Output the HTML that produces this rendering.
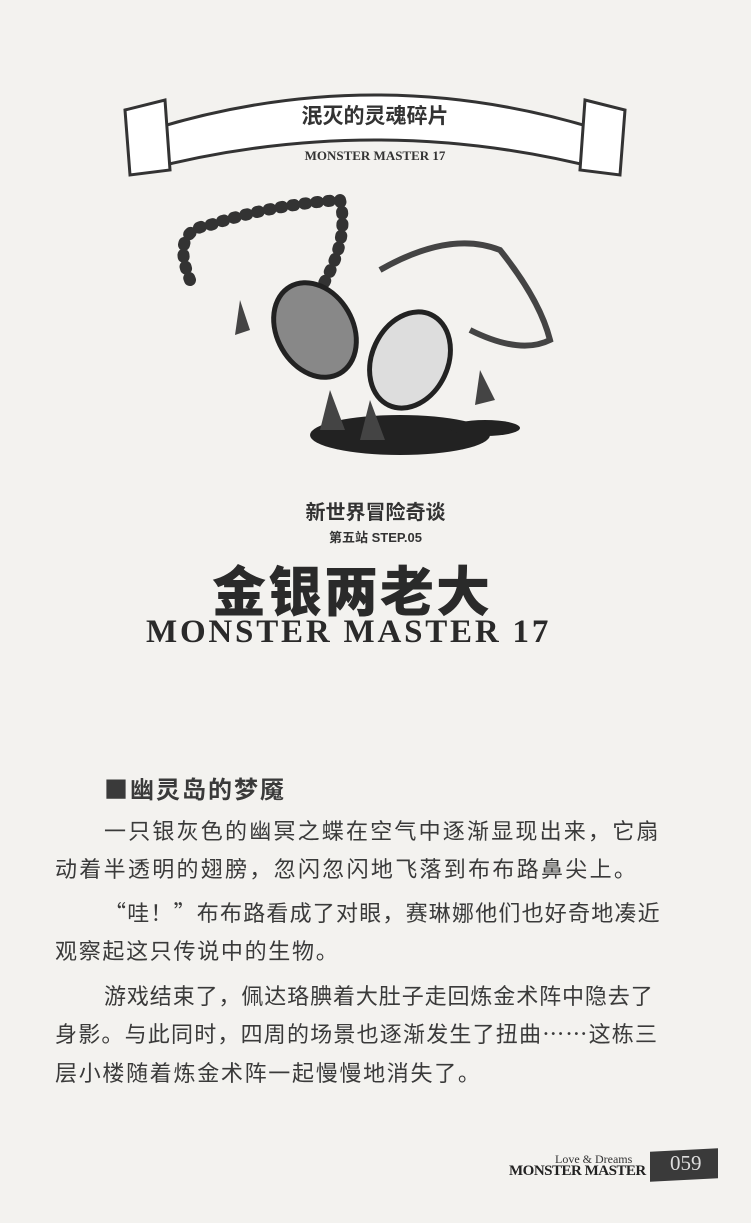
<!DOCTYPE html>
<html><head><meta charset="utf-8"><style>
body{margin:0;width:751px;height:1223px;background:#f3f2ef;position:relative;overflow:hidden;font-family:"Liberation Sans","Noto Sans CJK SC",sans-serif;color:#333}
.a{position:absolute}
.p{position:absolute;left:55px;font-size:22px;color:#3a3a3a;letter-spacing:1.7px;white-space:nowrap;font-family:"Noto Sans CJK SC",sans-serif;line-height:1}
</style></head><body>
<svg class="a" style="left:0;top:0" width="751" height="480">
<g fill="#fff" stroke="#333" stroke-width="3">
<path d="M150 130 Q375 60 600 130 L605 170 Q375 110 145 170 Z"/>
<path d="M125 110 L165 100 L170 170 L130 175 Z"/>
<path d="M585 100 L625 110 L620 175 L580 170 Z"/>
</g>
<text x="375" y="123" text-anchor="middle" font-size="21" font-weight="bold" fill="#333" font-family="Noto Sans CJK SC,sans-serif">泯灭的灵魂碎片</text>
<text x="375" y="160" text-anchor="middle" font-size="13" font-weight="bold" fill="#333" font-family="Liberation Serif,serif">MONSTER MASTER 17</text>
<ellipse cx="400" cy="435" rx="90" ry="20" fill="#222"/>
<ellipse cx="485" cy="428" rx="35" ry="8" fill="#222"/>
<path d="M190 280 Q170 230 210 225 Q270 205 340 200 Q350 240 320 290" fill="none" stroke="#333" stroke-width="12" stroke-dasharray="2 10" stroke-linecap="round"/>
<path d="M380 270 Q450 230 500 250 Q540 300 550 340 Q520 355 470 330" fill="none" stroke="#444" stroke-width="6"/>
<ellipse cx="315" cy="330" rx="38" ry="50" fill="#888" stroke="#222" stroke-width="5" transform="rotate(-30 315 330)"/>
<ellipse cx="410" cy="360" rx="38" ry="50" fill="#ddd" stroke="#222" stroke-width="5" transform="rotate(25 410 360)"/>
<path d="M240 300 L250 330 L235 335 Z M330 390 L345 430 L320 430 Z M370 400 L385 440 L360 440 Z M480 370 L495 400 L475 405 Z" fill="#444"/>
</svg>
<div class="a" style="left:0;width:751px;top:496px;text-align:center;font-size:20px;font-weight:bold;color:#333">新世界冒险奇谈</div>
<div class="a" style="left:0;width:751px;top:527px;text-align:center;font-size:13px;font-weight:bold;color:#333">第五站 STEP.05</div>
<div class="a" style="left:212px;top:558px;font-size:54px;font-weight:900;color:#2a2a2a;font-family:'Noto Sans CJK SC',sans-serif;letter-spacing:2px;line-height:1.1">金银两老大</div>
<div class="a" style="left:146px;top:614px;font-size:33px;font-weight:bold;color:#2a2a2a;font-family:'Liberation Serif',serif;letter-spacing:2.8px;line-height:1.1">MONSTER MASTER 17</div>
<div class="p" style="left:104px;top:776px;font-weight:bold;font-size:24px;letter-spacing:2px">■幽灵岛的梦魇</div>
<div class="p" style="left:104px;top:819px;letter-spacing:2.2px">一只银灰色的幽冥之蝶在空气中逐渐显现出来，它扇</div>
<div class="p" style="top:857px;letter-spacing:2.3px">动着半透明的翅膀，忽闪忽闪地飞落到布布路鼻尖上。</div>
<div class="p" style="left:104px;top:901px;letter-spacing:1.2px">“哇！”布布路看成了对眼，赛琳娜他们也好奇地凑近</div>
<div class="p" style="top:939px">观察起这只传说中的生物。</div>
<div class="p" style="left:104px;top:984px;letter-spacing:0.9px">游戏结束了，佩达珞腆着大肚子走回炼金术阵中隐去了</div>
<div class="p" style="top:1022px;letter-spacing:1.2px">身影。与此同时，四周的场景也逐渐发生了扭曲……这栋三</div>
<div class="p" style="top:1061px">层小楼随着炼金术阵一起慢慢地消失了。</div>
<div class="a" style="left:555px;top:1152px;font-size:12px;font-family:'Liberation Serif',serif;color:#333">Love &amp; Dreams</div>
<div class="a" style="left:509px;top:1163px;font-size:15px;font-family:'Liberation Serif',serif;color:#222;font-weight:bold;letter-spacing:-0.5px">MONSTER MASTER</div>
<div class="a" style="left:650px;top:1150px;width:68px;height:30px;background:#3a3a3a;transform:skewY(-3deg)"></div>
<div class="a" style="left:670px;top:1151px;font-size:21px;color:#ddd;font-family:'Liberation Serif',serif">059</div>
</body></html>
